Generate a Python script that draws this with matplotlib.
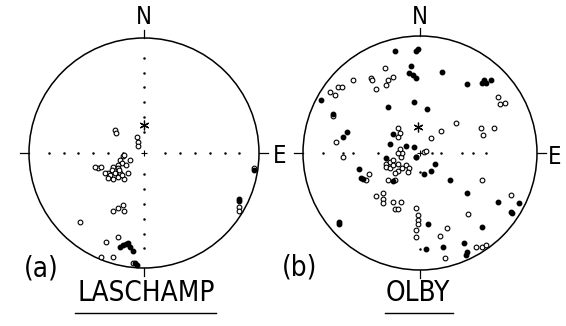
import numpy as np
import matplotlib.pyplot as plt
from matplotlib.patches import Circle

# positions in units of the net radius (east, north)
las_open_x = [-0.25, -0.24, -0.06, -0.05, -0.05,
              -0.12, -0.18, -0.21, -0.19, -0.23, -0.23, -0.27, -0.28, -0.31, -0.30,
              -0.25, -0.21, -0.14, -0.17, -0.27, -0.31, -0.34, -0.40, -0.43, -0.37,
              -0.23, -0.19, -0.16, -0.22, -0.17,
              -0.27, -0.23, -0.18, -0.17, -0.56, -0.33, -0.23, -0.37, -0.27, -0.10,
              0.96, 0.83, 0.83]
las_open_y = [0.20, 0.17, 0.14, 0.10, 0.06,
              -0.06, -0.03, -0.06, -0.09, -0.10, -0.13, -0.12, -0.15, -0.17, -0.19,
              -0.17, -0.17, -0.17, -0.23, -0.23, -0.22, -0.17, -0.13, -0.12, -0.12,
              -0.21, -0.19, -0.10, -0.15, -0.02,
              -0.50, -0.48, -0.45, -0.50, -0.60, -0.77, -0.73, -0.90, -0.90, -0.96,
              -0.13, -0.47, -0.50]
las_fill_x = [-0.21, -0.18, -0.16, -0.14, -0.12, -0.10, -0.08, -0.06, 0.96, 0.83, 0.83]
las_fill_y = [-0.82, -0.80, -0.79, -0.78, -0.82, -0.85, -0.96, -0.97, -0.15, -0.40, -0.42]
las_star = (0.0, 0.24)

olb_fill_x = [-0.21, -0.03, -0.02, -0.08, -0.09, -0.06, -0.03, 0.19, 0.40, 0.53, 0.55, 0.56,
              0.61, -0.85, -0.05, -0.27, 0.06, -0.74, -0.62, -0.66, -0.23, -0.26, -0.12,
              -0.05, -0.29, -0.03, 0.13, 0.09, 0.03, -0.23, -0.52, -0.50, -0.49, 0.26,
              0.40, 0.67, 0.78, 0.79, 0.85, -0.69, -0.69, 0.07, 0.53, 0.38, 0.20, 0.05,
              0.39, 0.40]
olb_fill_y = [0.87, 0.87, 0.89, 0.74, 0.68, 0.67, 0.64, 0.69, 0.59, 0.60, 0.62, 0.60,
              0.62, 0.45, 0.44, 0.39, 0.38, 0.33, 0.18, 0.14, 0.16, 0.08, 0.06,
              0.05, -0.04, -0.03, -0.09, -0.15, -0.18, -0.24, -0.14, -0.21, -0.22, -0.23,
              -0.34, -0.42, -0.50, -0.51, -0.43, -0.59, -0.61, -0.61, -0.63, -0.77, -0.80, -0.82,
              -0.87, -0.85]
olb_open_x = [-0.30, -0.23, -0.42, -0.41, -0.38, -0.27, -0.29, -0.57, -0.77, -0.73, -0.70,
              -0.67, -0.74, -0.72, -0.66, 0.31, 0.18, 0.09, -0.19, -0.17, -0.19, 0.52,
              0.54, 0.63, 0.67, 0.68, 0.73, 0.53, 0.78, 0.41, 0.17, 0.23, -0.03, 0.48,
              0.53, 0.56, 0.21, -0.38, -0.32, -0.32, -0.32, -0.23, -0.21, -0.16, -0.19,
              -0.03, -0.02, -0.02, -0.02, -0.03, -0.44, -0.46,
              -0.29, -0.26, -0.23, -0.29, -0.26, -0.23, -0.19, -0.16, -0.15, -0.17,
              -0.19, -0.21, -0.12, -0.09, -0.10, -0.15, -0.21, -0.27, -0.03, 0.03,
              0.05, -0.19]
olb_open_y = [0.73, 0.65, 0.64, 0.62, 0.55, 0.62, 0.58, 0.62, 0.52, 0.50, 0.56,
              0.56, 0.32, 0.09, -0.03, 0.26, 0.19, 0.13, 0.21, 0.17, 0.14, 0.21,
              0.15, 0.21, 0.48, 0.42, 0.43, -0.23, -0.36, -0.52, -0.71, -0.64, -0.72, -0.80,
              -0.80, -0.79, -0.90, -0.37, -0.34, -0.39, -0.43, -0.42, -0.48, -0.42, -0.48,
              -0.47, -0.53, -0.57, -0.61, -0.66, -0.18, -0.23,
              -0.09, -0.08, -0.06, -0.12, -0.13, -0.10, -0.09, -0.03, 0.00, 0.03,
              -0.15, -0.17, -0.10, -0.13, -0.16, -0.13, -0.23, -0.23, -0.03, 0.01,
              0.02, 0.00]
olb_star = (-0.02, 0.22)

# dotted axis marks (fraction of radius)
las_dots = [0.18, 0.31, 0.44, 0.57, 0.70, 0.83]
olb_dots_h = [-0.83, -0.66, -0.57, -0.36, 0.10, 0.18, 0.36, 0.45, 0.56]
olb_dots_v = [-0.16, -0.82]

W, H = 566, 326
fig = plt.figure(figsize=(W / 100, H / 100), dpi=100)
font = dict(family='DejaVu Sans', fontstretch='condensed', fontweight='light', color='black')


def net(cx, cy, R, s=1.3):
    ax = fig.add_axes([(cx - s * R) / W, 1 - (cy + s * R) / H, 2 * s * R / W, 2 * s * R / H])
    ax.set_xlim(-s, s)
    ax.set_ylim(-s, s)
    ax.axis('off')
    ax.add_patch(Circle((0, 0), 1, fill=False, lw=1.1, color='black', clip_on=False))
    # ticks at N, S, W, E
    ax.plot([0, 0], [1, 1.07], color='black', lw=0.9, clip_on=False)
    ax.plot([0, 0], [-1, -1.07], color='black', lw=0.9, clip_on=False)
    ax.plot([-1, -1.08], [0, 0], color='black', lw=0.9, clip_on=False)
    ax.plot([1, 1.08], [0, 0], color='black', lw=0.9, clip_on=False)
    ax.plot([0], [0], marker='+', ms=5, color='black', mew=0.8)
    return ax


def points(ax, ox, oy, fx, fy, star):
    ax.plot(ox, oy, 'o', ms=3.4, mfc='white', mec='black', mew=0.8, ls='none', clip_on=False)
    ax.plot(fx, fy, 'o', ms=3.2, color='black', ls='none', clip_on=False)
    ax.plot([star[0]], [star[1]], marker=(6, 2, 0), ms=7, color='black', mew=0.9)


# LASCHAMP
ax1 = net(144, 153, 115)
d = np.array(las_dots)
ax1.plot(np.r_[d, -d], np.zeros(2 * len(d)), ls='none', marker='.', ms=1.6, color='black')
ax1.plot(np.zeros(2 * len(d)), np.r_[d, -d], ls='none', marker='.', ms=1.6, color='black')
points(ax1, las_open_x, las_open_y, las_fill_x, las_fill_y, las_star)
ax1.text(0, 1.18, 'N', ha='center', va='center', fontsize=17, **font)
ax1.text(1.12, -0.03, 'E', ha='left', va='center', fontsize=17, **font)
ax1.text(-0.89, -1.0, '(a)', ha='center', va='center', fontsize=20, **font)
ax1.text(0.02, -1.22, 'LASCHAMP', ha='center', va='center', fontsize=20, **font)
ax1.plot([-0.6, 0.63], [-1.39, -1.39], color='black', lw=1.0, clip_on=False)

# OLBY
ax2 = net(420, 153, 117)
ax2.plot(olb_dots_h, np.zeros(len(olb_dots_h)), ls='none', marker='.', ms=1.6, color='black')
ax2.plot(np.zeros(len(olb_dots_v)), olb_dots_v, ls='none', marker='.', ms=1.6, color='black')
points(ax2, olb_open_x, olb_open_y, olb_fill_x, olb_fill_y, olb_star)
ax2.text(0, 1.16, 'N', ha='center', va='center', fontsize=17, **font)
ax2.text(1.09, -0.03, 'E', ha='left', va='center', fontsize=17, **font)
ax2.text(-1.03, -0.98, '(b)', ha='center', va='center', fontsize=20, **font)
ax2.text(-0.02, -1.2, 'OLBY', ha='center', va='center', fontsize=20, **font)
ax2.plot([-0.3, 0.28], [-1.37, -1.37], color='black', lw=1.0, clip_on=False)

fig.savefig('out.png', dpi=100)
